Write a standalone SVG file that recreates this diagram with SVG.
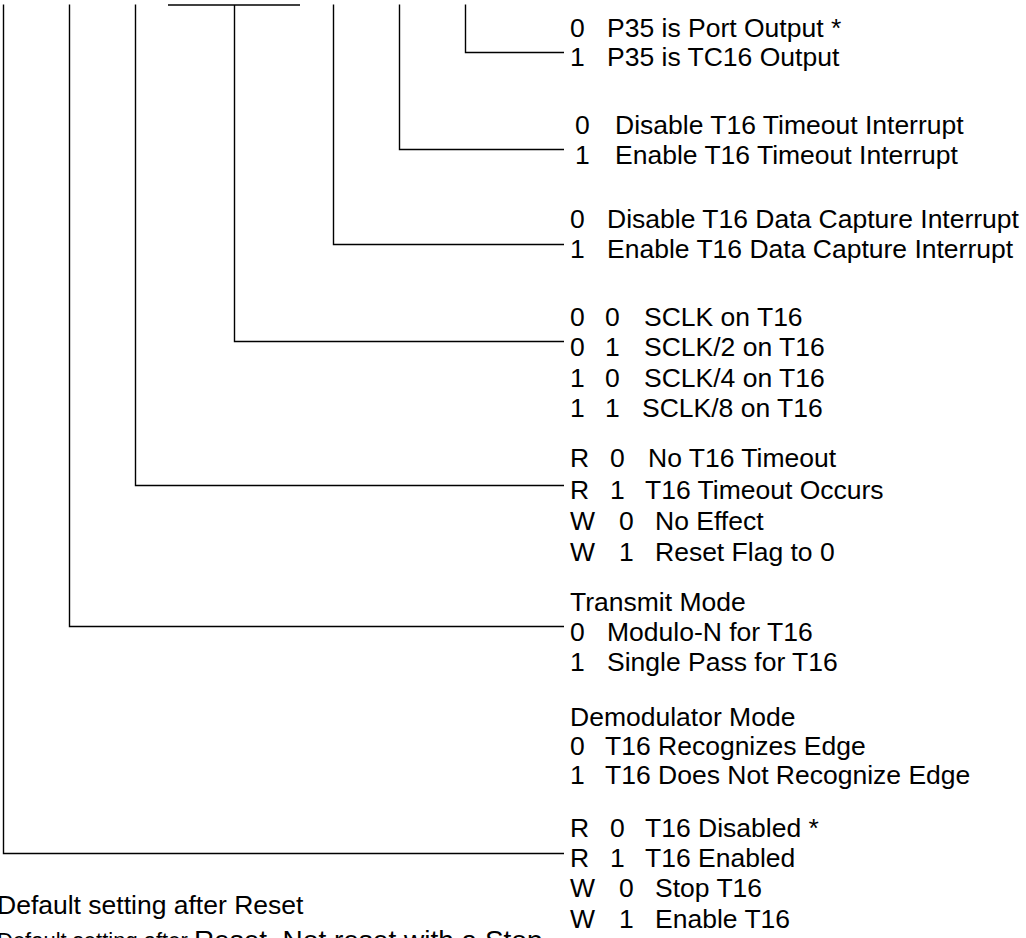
<svg xmlns="http://www.w3.org/2000/svg" width="1026" height="938" viewBox="0 0 1026 938">
<style>
  text { font-family: "Liberation Sans", Arial, sans-serif; font-size: 26.5px; fill: #000; }
  .small { font-size: 22px; }
  .big { font-size: 28px; }
  .wire { stroke: #000; stroke-width: 1.4; fill: none; }
</style>
<rect width="1026" height="938" fill="#fff"/>
<g id="connectors">
  <path class="wire" d="M168 5 H300"/>
  <path class="wire" d="M3.5 4.5 V853.5 H564"/>
  <path class="wire" d="M69.5 4.5 V626.5 H564"/>
  <path class="wire" d="M135.5 4.5 V485.5 H564"/>
  <path class="wire" d="M234.5 5 V341.5 H564"/>
  <path class="wire" d="M333.5 4.5 V244.5 H564"/>
  <path class="wire" d="M399.5 4.5 V149.5 H564"/>
  <path class="wire" d="M465.5 4.5 V52.5 H564"/>
</g>
<g id="bit0">
  <text y="37"><tspan x="570">0</tspan><tspan x="607">P35 is Port Output *</tspan></text>
  <text y="66"><tspan x="570">1</tspan><tspan x="607">P35 is TC16 Output</tspan></text>
</g>
<g id="bit1">
  <text y="134"><tspan x="575">0</tspan><tspan x="615">Disable T16 Timeout Interrupt</tspan></text>
  <text y="164"><tspan x="575">1</tspan><tspan x="615">Enable T16 Timeout Interrupt</tspan></text>
</g>
<g id="bit2">
  <text y="228"><tspan x="570">0</tspan><tspan x="607">Disable T16 Data Capture Interrupt</tspan></text>
  <text y="258"><tspan x="570">1</tspan><tspan x="607">Enable T16 Data Capture Interrupt</tspan></text>
</g>
<g id="bits34">
  <text y="326"><tspan x="570">0</tspan><tspan x="605">0</tspan><tspan x="644">SCLK on T16</tspan></text>
  <text y="356"><tspan x="570">0</tspan><tspan x="605">1</tspan><tspan x="644">SCLK/2 on T16</tspan></text>
  <text y="387"><tspan x="570">1</tspan><tspan x="605">0</tspan><tspan x="644">SCLK/4 on T16</tspan></text>
  <text y="417"><tspan x="570">1</tspan><tspan x="605">1</tspan><tspan x="642">SCLK/8 on T16</tspan></text>
</g>
<g id="bit5">
  <text y="467"><tspan x="570">R</tspan><tspan x="610">0</tspan><tspan x="648">No T16 Timeout</tspan></text>
  <text y="499"><tspan x="570">R</tspan><tspan x="610">1</tspan><tspan x="645">T16 Timeout Occurs</tspan></text>
  <text y="530"><tspan x="570">W</tspan><tspan x="619">0</tspan><tspan x="655">No Effect</tspan></text>
  <text y="561"><tspan x="570">W</tspan><tspan x="619">1</tspan><tspan x="655">Reset Flag to 0</tspan></text>
</g>
<g id="bit6">
  <text x="570" y="611">Transmit Mode</text>
  <text y="641"><tspan x="570">0</tspan><tspan x="607">Modulo-N for T16</tspan></text>
  <text y="671"><tspan x="570">1</tspan><tspan x="607">Single Pass for T16</tspan></text>
  <text x="570" y="726">Demodulator Mode</text>
  <text y="755"><tspan x="570">0</tspan><tspan x="605">T16 Recognizes Edge</tspan></text>
  <text y="784"><tspan x="570">1</tspan><tspan x="605">T16 Does Not Recognize Edge</tspan></text>
</g>
<g id="bit7">
  <text y="837"><tspan x="570">R</tspan><tspan x="610">0</tspan><tspan x="645">T16 Disabled *</tspan></text>
  <text y="867"><tspan x="570">R</tspan><tspan x="610">1</tspan><tspan x="645">T16 Enabled</tspan></text>
  <text y="897"><tspan x="570">W</tspan><tspan x="619">0</tspan><tspan x="655">Stop T16</tspan></text>
  <text y="928"><tspan x="570">W</tspan><tspan x="619">1</tspan><tspan x="655">Enable T16</tspan></text>
</g>
<g id="notes">
  <text x="-3" y="914">Default setting after Reset</text>
  <text x="-3" y="948"><tspan class="small">Default setting after </tspan><tspan class="big" y="950">Reset. Not reset with a Stop</tspan></text>
</g>
</svg>
